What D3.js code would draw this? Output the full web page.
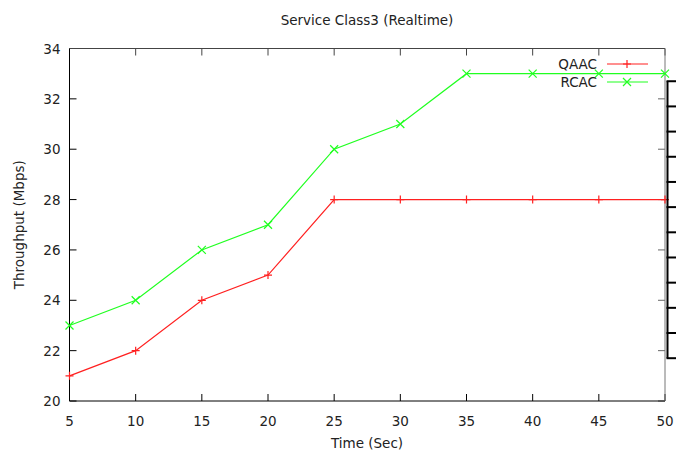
<!DOCTYPE html>
<html>
<head>
    <script src="https://cdn.jsdelivr.net/npm/d3@7/dist/d3.min.js"></script>
</head>

<style>
    body { margin: 0; background: white; }
    text { font-family: "DejaVu Sans", sans-serif; font-size: 13.5px; fill: #222; }
</style>

<body>
<div id="chart"></div>

<script>

    var times = [5, 10, 15, 20, 25, 30, 35, 40, 45, 50];
    var qaac = [21, 22, 24, 25, 28, 28, 28, 28, 28, 28];
    var rcac = [23, 24, 26, 27, 30, 31, 33, 33, 33, 33];
    var yTicks = [20, 22, 24, 26, 28, 30, 32, 34];
    // stray bracket on the right edge of the original image
    var bracketTicks = [32.7, 31.7, 30.7, 29.7, 28.7, 27.7, 26.7, 25.7, 24.7, 23.7, 22.7, 21.7];

    var W = 676, H = 452;
    var padding = { top: 48.5, right: 11, bottom: 51, left: 69.5 };
    var width = W - padding.left - padding.right;
    var height = H - padding.top - padding.bottom;

    var xScale = d3.scaleLinear().domain([5, 50]).range([0, width]);
    var yScale = d3.scaleLinear().domain([20, 34]).range([height, 0]);

    var svg = d3.select('#chart').append('svg')
        .attr('width', W)
        .attr('height', H);

    svg.append('rect').attr('width', W).attr('height', H).attr('fill', 'white');

    svg.append('text')
        .attr('x', 367).attr('y', 25)
        .attr('text-anchor', 'middle')
        .text('Service Class3 (Realtime)');

    svg.append('text')
        .attr('x', 367).attr('y', 448)
        .attr('text-anchor', 'middle')
        .text('Time (Sec)');

    svg.append('text')
        .attr('transform', 'translate(24,' + (padding.top + height / 2) + ') rotate(-90)')
        .attr('text-anchor', 'middle')
        .text('Throughput (Mbps)');

    var g = svg.append('g')
        .attr('transform', 'translate(' + padding.left + ',' + padding.top + ')');

    // tick marks, mirrored on all sides
    var tickLen = 7;
    g.selectAll('line.yl').data(yTicks).enter().append('line')
        .attr('x1', 0).attr('x2', tickLen)
        .attr('y1', function(d) { return yScale(d); }).attr('y2', function(d) { return yScale(d); })
        .attr('stroke', '#000');
    g.selectAll('line.yr').data(yTicks).enter().append('line')
        .attr('x1', width - tickLen).attr('x2', width)
        .attr('y1', function(d) { return yScale(d); }).attr('y2', function(d) { return yScale(d); })
        .attr('stroke', '#666');
    g.selectAll('line.xb').data(times).enter().append('line')
        .attr('x1', function(d) { return xScale(d); }).attr('x2', function(d) { return xScale(d); })
        .attr('y1', height).attr('y2', height - tickLen)
        .attr('stroke', '#000');
    g.selectAll('line.xt').data(times).enter().append('line')
        .attr('x1', function(d) { return xScale(d); }).attr('x2', function(d) { return xScale(d); })
        .attr('y1', 0).attr('y2', tickLen)
        .attr('stroke', '#444');

    // tick labels
    g.selectAll('text.yt').data(yTicks).enter().append('text')
        .attr('x', -9).attr('y', function(d) { return yScale(d) + 5; })
        .attr('text-anchor', 'end')
        .text(function(d) { return d; });
    g.selectAll('text.xt').data(times).enter().append('text')
        .attr('x', function(d) { return xScale(d); }).attr('y', height + 25)
        .attr('text-anchor', 'middle')
        .text(function(d) { return d; });

    // border
    g.append('line').attr('x1', 0).attr('x2', 0).attr('y1', 0).attr('y2', height).attr('stroke', '#000');
    g.append('line').attr('x1', 0).attr('x2', width).attr('y1', height).attr('y2', height).attr('stroke', '#000');
    g.append('line').attr('x1', 0).attr('x2', width).attr('y1', 0).attr('y2', 0).attr('stroke', '#444');
    g.append('line').attr('x1', width).attr('x2', width).attr('y1', 0).attr('y2', height).attr('stroke', '#777');

    var line = d3.line()
        .x(function(d, i) { return xScale(times[i]); })
        .y(function(d) { return yScale(d); });

    g.append('path').datum(qaac).attr('d', line)
        .attr('fill', 'none').attr('stroke', '#ff2020').attr('stroke-width', 1.2);
    g.append('path').datum(rcac).attr('d', line)
        .attr('fill', 'none').attr('stroke', '#20ff20').attr('stroke-width', 1.2);

    var s = 4;
    function plus(sel, color) {
        sel.append('path')
            .attr('d', 'M' + -s + ',0H' + s + 'M0,' + -s + 'V' + s)
            .attr('stroke', color).attr('stroke-width', 1.2);
    }
    function cross(sel, color) {
        sel.append('path')
            .attr('d', 'M' + -s + ',' + -s + 'L' + s + ',' + s + 'M' + -s + ',' + s + 'L' + s + ',' + -s)
            .attr('stroke', color).attr('stroke-width', 1.2);
    }

    g.selectAll('g.qp').data(qaac).enter().append('g')
        .attr('transform', function(d, i) { return 'translate(' + xScale(times[i]) + ',' + yScale(d) + ')'; })
        .call(plus, '#ff2020');
    g.selectAll('g.rp').data(rcac).enter().append('g')
        .attr('transform', function(d, i) { return 'translate(' + xScale(times[i]) + ',' + yScale(d) + ')'; })
        .call(cross, '#20ff20');

    // legend
    var legend = svg.append('g');
    var series = [{ name: 'QAAC', color: '#ff2020', mark: plus, y: 64 },
                  { name: 'RCAC', color: '#20ff20', mark: cross, y: 82 }];
    series.forEach(function(d) {
        legend.append('text').attr('x', 597).attr('y', d.y + 5)
            .attr('text-anchor', 'end').text(d.name);
        legend.append('line').attr('x1', 607).attr('x2', 648)
            .attr('y1', d.y).attr('y2', d.y)
            .attr('stroke', d.color).attr('stroke-width', 1.2);
        legend.append('g').attr('transform', 'translate(627,' + d.y + ')')
            .call(d.mark, d.color);
    });

    // right-edge bracket
    var bx = 667.5;
    svg.append('line')
        .attr('x1', bx).attr('x2', bx)
        .attr('y1', padding.top + yScale(bracketTicks[0]))
        .attr('y2', padding.top + yScale(bracketTicks[bracketTicks.length - 1]))
        .attr('stroke', '#000').attr('stroke-width', 2);
    svg.selectAll('line.br').data(bracketTicks).enter().append('line')
        .attr('x1', bx - 1).attr('x2', W)
        .attr('y1', function(d) { return padding.top + yScale(d); })
        .attr('y2', function(d) { return padding.top + yScale(d); })
        .attr('stroke', '#000').attr('stroke-width', 2);

</script>
</body>
</html>
